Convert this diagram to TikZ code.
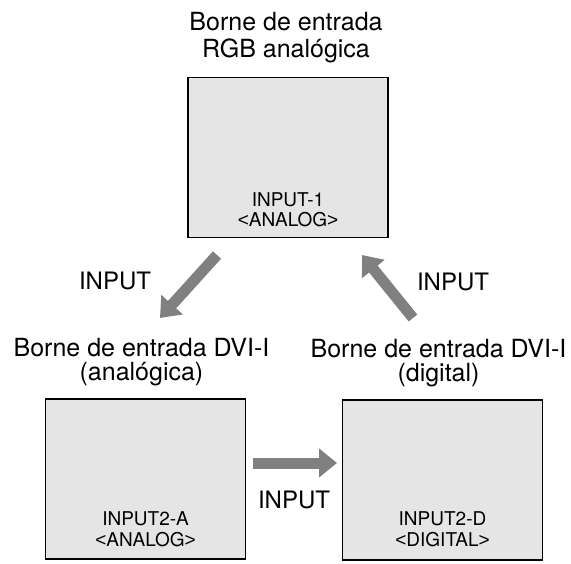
\documentclass[tikz,border=0pt]{standalone}
\usepackage{fontspec}
\setmainfont{TeX Gyre Heros}
\newfontfamily\brkfont{Liberation Sans}
\usetikzlibrary{arrows.meta, positioning}
\definecolor{boxgray}{gray}{0.9}
\definecolor{arrowgray}{gray}{0.5}
\newcommand{\lt}{{\brkfont <}}
\newcommand{\gt}{{\brkfont >}}

\begin{document}
\begin{tikzpicture}[
    x=1pt, y=-1pt,
    port/.style={draw, line width=1.6pt, fill=boxgray, minimum width=200pt, minimum height=160pt, inner sep=0pt},
    caption/.style={align=center, inner sep=0pt},
    tag/.style={align=center, inner sep=0pt, font=\fontsize{19}{20.5}\selectfont},
    inputlabel/.style={inner sep=0pt, anchor=base, font=\fontsize{24}{26}\selectfont},
    switch/.style={-{Triangle[width=28pt, length=18pt]}, line width=11pt, draw=arrowgray}
]
\useasboundingbox (0,0) rectangle (571,564);

\node[port] (in1) at (288,157.5) {};
\node[port] (in2a) at (145.5,479) {};
\node[port] (in2d) at (442.5,480) {};

\node[caption, font=\fontsize{25}{27}\selectfont, above=14pt of in1, xshift=-2pt] (title1) {Borne de entrada\\RGB analógica};
\node[caption, font=\fontsize{25}{24}\selectfont, above=12pt of in2a, xshift=-4pt] (title2a) {Borne de entrada DVI-I\\(analógica)};
\node[caption, font=\fontsize{25}{24}\selectfont, above=12pt of in2d, xshift=-4pt] (title2d) {Borne de entrada DVI-I\\(digital)};

\node[tag, above=11pt of in1.south] (tag1) {INPUT-1\\\lt ANALOG\gt};
\node[tag, above=13pt of in2a.south] (tag2a) {INPUT2-A\\\lt ANALOG\gt};
\node[tag, above=14pt of in2d.south] (tag2d) {INPUT2-D\\\lt DIGITAL\gt};

\node[inputlabel] (inA) at (115,290) {INPUT};
\node[inputlabel] (inB) at (453,291) {INPUT};
\node[inputlabel] (inC) at (294,508) {INPUT};

\coordinate (a1s) at (217,255);
\coordinate (a1e) at (160,318);
\coordinate (a2s) at (413,318);
\coordinate (a2e) at (362,255);
\coordinate (a3s) at (253,463);
\coordinate (a3e) at (337,463);

\draw[switch] (a1s) -- (a1e);
\draw[switch] (a3s) -- (a3e);
\draw[switch] (a2s) -- (a2e);

\end{tikzpicture}
\end{document}
